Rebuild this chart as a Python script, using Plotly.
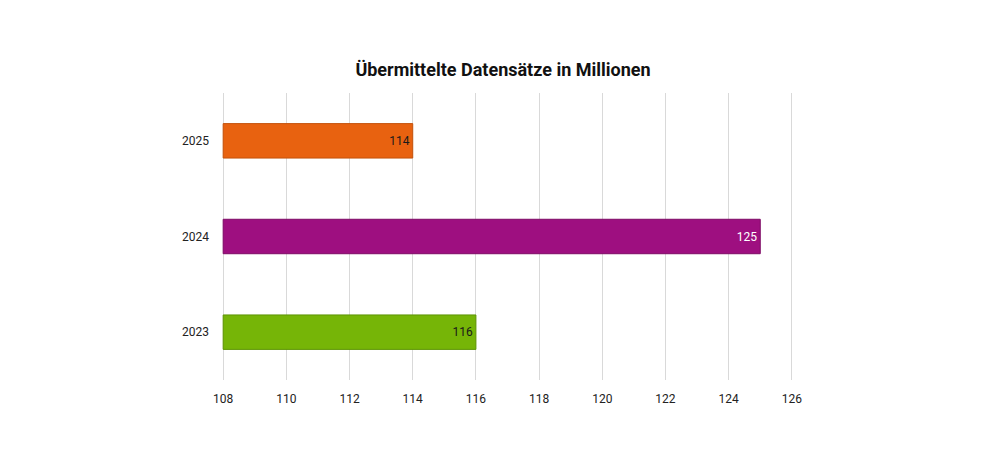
import plotly.graph_objects as go

# Übermittelte Datensätze (Mio.) je Jahr
jahre = ["2023", "2024", "2025"]
werte = [116, 125, 114]
farben = ["#76B507", "#9E0F80", "#E86210"]
rand = ["#5E9405", "#7E0B66", "#C4520C"]
textfarben = ["#1a1a1a", "#ffffff", "#1a1a1a"]
x_ticks = [108, 110, 112, 114, 116, 118, 120, 122, 124, 126]

# Balken beginnen an der Achsenuntergrenze (108), nicht bei 0
basis = x_ticks[0]

fig = go.Figure()
fig.add_bar(
    y=jahre, x=[w - basis for w in werte], base=basis, orientation="h",
    marker=dict(color=farben, line=dict(color=rand, width=1)),
    text=[str(v) for v in werte], textposition="inside", insidetextanchor="end",
    textfont=dict(color=textfarben, size=12, family="Roboto"),
    width=0.36, showlegend=False, hovertemplate="%{y}: %{text}<extra></extra>",
)
fig.update_layout(
    title=dict(text="<b>Übermittelte Datensätze in Millionen</b>", x=0.5, xanchor="center",
               y=0.866, yanchor="middle", font=dict(size=18, color="#111", family="Roboto")),
    width=990, height=461, template="plotly_white",
    margin=dict(l=212, r=203, t=85, b=89),
    plot_bgcolor="white", paper_bgcolor="white",
    font=dict(family="Roboto", size=12, color="#222"),
    xaxis=dict(range=[107.9, 126.1], tickvals=x_ticks, showgrid=True, gridcolor="#d9d9d9",
               gridwidth=1, zeroline=False, showline=False, ticks="", ticklabelstandoff=10),
    yaxis=dict(categoryorder="array", categoryarray=jahre, range=[-0.5, 2.5],
               showgrid=False, zeroline=False, ticks="", ticklabelstandoff=10),
)
fig.write_html("out.html")
